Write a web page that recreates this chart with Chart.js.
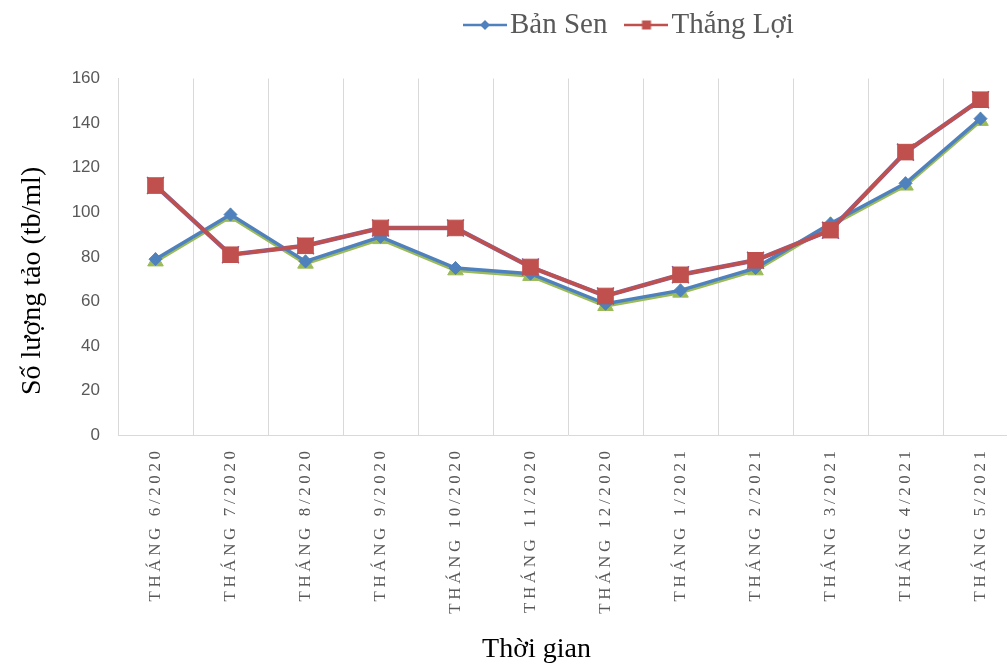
<!DOCTYPE html>
<html>
<head>
<meta charset="utf-8">
<script src="https://cdn.jsdelivr.net/npm/chart.js@4"></script>
<style>
  html, body { margin: 0; padding: 0; background: #fff; overflow: hidden; }
  #wrap { position: relative; width: 1073px; height: 666px; }
</style>
</head>
<body>
<div id="wrap"><canvas id="c"></canvas></div>
<script>
const categories = ["THÁNG 6/2020", "THÁNG 7/2020", "THÁNG 8/2020", "THÁNG 9/2020", "THÁNG 10/2020", "THÁNG 11/2020",
  "THÁNG 12/2020", "THÁNG 1/2021", "THÁNG 2/2021", "THÁNG 3/2021", "THÁNG 4/2021", "THÁNG 5/2021"];
const banSen = [79, 99, 78, 89, 75, 72.5, 59, 65, 75, 95, 113, 142];
const thangLoi = [112, 81, 85, 93, 93, 75.5, 62.5, 72, 78.5, 92, 127, 150.5];
const series3 = [78, 98, 77, 88, 74, 71.5, 58, 64, 74, 94, 112, 141];
const series4 = [112, 81, 85, 93, 93, 75.5, 62.5, 72, 78.5, 92, 127, 150.5];
const yTicks = [0, 20, 40, 60, 80, 100, 120, 140, 160];

const SERIF = "'Liberation Serif', 'Times New Roman', serif";
const SANS = "'Liberation Sans', Arial, sans-serif";
const BLUE = '#4F81BD', RED = '#C0504D', GREEN = '#9BBB59', PURPLE = '#8064A2';

function legendIcon(color, shape) {
  const c = document.createElement('canvas');
  c.width = 44; c.height = 14;
  const g = c.getContext('2d');
  g.strokeStyle = color; g.lineWidth = 2.5;
  g.beginPath(); g.moveTo(0, 7); g.lineTo(44, 7); g.stroke();
  g.fillStyle = color;
  if (shape === 'diamond') {
    g.beginPath(); g.moveTo(22, 2); g.lineTo(27, 7); g.lineTo(22, 12); g.lineTo(17, 7); g.closePath(); g.fill();
  } else {
    g.fillRect(17.5, 2.5, 9, 9);
  }
  return c;
}
const legendIcons = { 0: legendIcon(BLUE, 'diamond'), 1: legendIcon(RED, 'square') };

const LEG_LEFT = 446, LEG_TOP = -18, YTITLE_SHIFT = 24;
const tweaks = {
  id: 'tweaks',
  beforeDraw(chart) {
    const lg = chart.legend;
    if (lg) {
      const w = lg.width, h = lg.height;
      lg.left = LEG_LEFT; lg.right = LEG_LEFT + Math.max(w, 600);
      lg.top = LEG_TOP; lg.bottom = LEG_TOP + h;
    }
    const s = chart.scales.x;
    if (s && !s._lsPatched) {
      const orig = s.drawLabels;
      s.drawLabels = function (area) {
        const ctx = this.ctx;
        ctx.save();
        ctx.letterSpacing = '3.6px';
        orig.call(this, area);
        ctx.restore();
      };
      s._lsPatched = true;
    }
    const y = chart.scales.y;
    if (y && !y._tPatched) {
      const origT = y.drawTitle;
      y.drawTitle = function () {
        const ctx = this.ctx;
        ctx.save();
        ctx.translate(0, YTITLE_SHIFT);
        origT.apply(this, arguments);
        ctx.restore();
      };
      y._tPatched = true;
    }
  }
};

new Chart(document.getElementById('c'), {
  type: 'line',
  data: {
    labels: categories,
    datasets: [
      { label: 'Bản Sen', data: banSen, borderColor: BLUE, backgroundColor: BLUE, borderWidth: 3.5,
        pointStyle: 'rectRot', pointRadius: 6.5, pointBorderWidth: 1, pointBorderColor: BLUE, pointBackgroundColor: BLUE, order: 2 },
      { label: 'Thắng Lợi', data: thangLoi, borderColor: RED, backgroundColor: RED, borderWidth: 3.5,
        pointStyle: 'rect', pointRadius: 11, pointBorderWidth: 1, pointBorderColor: RED, pointBackgroundColor: RED, order: 0 },
      { label: 'S3', data: series3, borderColor: GREEN, backgroundColor: GREEN, borderWidth: 3.5,
        pointStyle: 'triangle', pointRadius: 9, pointBorderWidth: 1, pointBorderColor: GREEN, pointBackgroundColor: GREEN, order: 3 },
      { label: 'S4', data: series4, borderColor: PURPLE, backgroundColor: PURPLE, borderWidth: 4.5,
        pointStyle: 'crossRot', pointRadius: 12, pointBorderWidth: 1.5, pointBorderColor: PURPLE, pointBackgroundColor: PURPLE, order: 1 }
    ]
  },
  options: {
    responsive: true,
    maintainAspectRatio: false,
    animation: false,
    events: [],
    layout: { padding: { top: 11, left: 0, right: 0, bottom: 0 } },
    plugins: {
      tooltip: { enabled: false },
      legend: {
        display: true,
        position: 'top',
        align: 'start',
        labels: {
          usePointStyle: true,
          pointStyleWidth: 21,
          padding: 28.5,
          color: '#595959',
          font: { family: SERIF, size: 29 },
          generateLabels(chart) {
            const items = Chart.defaults.plugins.legend.labels.generateLabels(chart);
            return items.filter(i => i.datasetIndex < 2)
              .sort((a, b) => a.datasetIndex - b.datasetIndex)
              .map(i => { i.pointStyle = legendIcons[i.datasetIndex]; i.fontColor = '#595959'; i.lineWidth = 0; return i; });
          }
        }
      },
      title: {
        display: true,
        position: 'bottom',
        text: 'Thời gian',
        color: '#000',
        font: { family: SERIF, size: 28, weight: 'normal' },
        padding: { top: 0, bottom: 0 }
      }
    },
    scales: {
      x: {
        type: 'category',
        offset: true,
        grid: { display: true, color: '#D9D9D9', lineWidth: 1, drawTicks: false, offset: true },
        border: { display: true, color: '#D9D9D9', width: 1 },
        ticks: {
          autoSkip: false, minRotation: 90, maxRotation: 90, padding: 12,
          color: '#595959', font: { family: SERIF, size: 17 }
        },
        afterFit(s) { s.height = 197; }
      },
      y: {
        type: 'linear',
        min: 0, max: 160,
        afterBuildTicks(s) { s.ticks = yTicks.map(v => ({ value: v })); },
        grid: { display: false, drawTicks: false },
        border: { display: true, color: '#D9D9D9', width: 1 },
        ticks: { padding: 18, color: '#595959', font: { family: SANS, size: 17 } },
        title: {
          display: true, text: 'Số lượng tảo (tb/ml)', color: '#000',
          font: { family: SERIF, size: 28 }, padding: { top: 16, bottom: 0 }
        },
        afterFit(s) { s.width = 118; }
      },
      pad: {
        type: 'linear', position: 'right', display: true,
        grid: { display: false, drawTicks: false },
        border: { display: false },
        ticks: { display: false },
        afterFit(s) { s.width = 55; }
      }
    }
  },
  plugins: [tweaks]
});
</script>
</body>
</html>
